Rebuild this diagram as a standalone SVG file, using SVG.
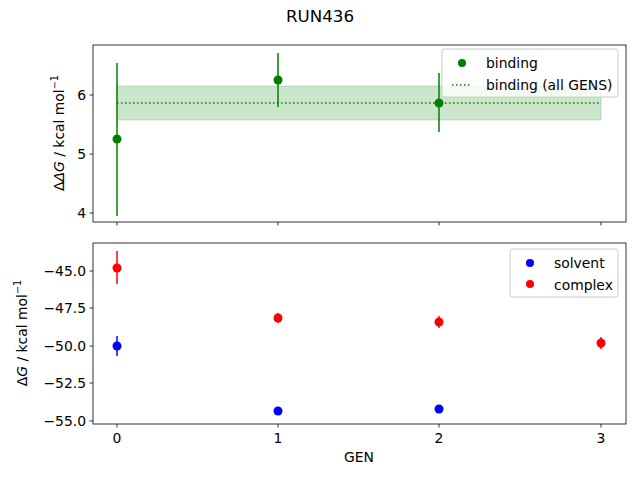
<svg xmlns="http://www.w3.org/2000/svg" width="640" height="480" viewBox="0 0 640 480">
<style>
text{font-family:"DejaVu Sans",sans-serif;font-size:13.9px;fill:#000}
.sup{font-size:9.7px}
.ax{fill:none;stroke:#000;stroke-width:0.8}
.tk{stroke:#000;stroke-width:0.8}
.g{stroke:#008000;stroke-width:1.5}
.b{stroke:#0000ff;stroke-width:1.5}
.r{stroke:#ff0000;stroke-width:1.5}
</style>
<rect width="640" height="480" fill="#fff"/>
<text x="320" y="22" text-anchor="middle" style="font-size:16.7px">RUN436</text>
<g id="top">
<rect x="117" y="86" width="484" height="34" fill="#008000" fill-opacity="0.2" stroke="#008000" stroke-opacity="0.2"/>
<line x1="117" y1="103" x2="601" y2="103" stroke="#008000" stroke-width="1.5" stroke-dasharray="1.5,2.5"/>
<line class="g" x1="117" y1="63" x2="117" y2="216"/>
<line class="g" x1="278" y1="53" x2="278" y2="107"/>
<line class="g" x1="439" y1="73" x2="439" y2="132"/>
<circle cx="117" cy="139" r="4.5" fill="#008000"/>
<circle cx="278" cy="80" r="4.5" fill="#008000"/>
<circle cx="439" cy="103" r="4.5" fill="#008000"/>
<rect class="ax" x="93" y="45" width="533" height="177"/>
<g class="tk">
<line x1="93" y1="95" x2="89.5" y2="95"/><line x1="93" y1="154" x2="89.5" y2="154"/><line x1="93" y1="213" x2="89.5" y2="213"/>
<line x1="117" y1="222" x2="117" y2="225.5"/><line x1="278" y1="222" x2="278" y2="225.5"/><line x1="439" y1="222" x2="439" y2="225.5"/><line x1="601" y1="222" x2="601" y2="225.5"/>
</g>
<text x="86" y="100" text-anchor="end">6</text>
<text x="86" y="159" text-anchor="end">5</text>
<text x="86" y="218" text-anchor="end">4</text>
<text transform="translate(64,133) rotate(-90)" text-anchor="middle">Δ<tspan font-style="italic">ΔG</tspan> / kcal mol<tspan class="sup" dy="-6">−1</tspan></text>
<g id="legend1">
<rect x="442" y="49" width="176" height="48" rx="2" fill="#fff" fill-opacity="0.8" stroke="#ccc"/>
<circle cx="462" cy="63" r="4" fill="#008000"/>
<text x="486" y="68">binding</text>
<line x1="452" y1="85" x2="472" y2="85" stroke="#008000" stroke-width="1.5" stroke-dasharray="1.5,2.5"/>
<text x="486" y="90">binding (all GENS)</text>
</g>
</g>
<g id="bottom">
<line class="b" x1="117" y1="336" x2="117" y2="356"/>
<line class="r" x1="117" y1="251" x2="117" y2="284"/>
<line class="r" x1="278" y1="313" x2="278" y2="323"/>
<line class="r" x1="439" y1="316" x2="439" y2="328"/>
<line class="r" x1="601" y1="337" x2="601" y2="349"/>
<circle cx="117" cy="346" r="4.5" fill="#0000ff"/>
<circle cx="278" cy="411" r="4.5" fill="#0000ff"/>
<circle cx="439" cy="409" r="4.5" fill="#0000ff"/>
<circle cx="117" cy="268" r="4.5" fill="#ff0000"/>
<circle cx="278" cy="318" r="4.5" fill="#ff0000"/>
<circle cx="439" cy="322" r="4.5" fill="#ff0000"/>
<circle cx="601" cy="343" r="4.5" fill="#ff0000"/>
<rect class="ax" x="93" y="243" width="533" height="181"/>
<g class="tk">
<line x1="93" y1="271" x2="89.5" y2="271"/><line x1="93" y1="308" x2="89.5" y2="308"/><line x1="93" y1="346" x2="89.5" y2="346"/><line x1="93" y1="383" x2="89.5" y2="383"/><line x1="93" y1="421" x2="89.5" y2="421"/>
<line x1="117" y1="424" x2="117" y2="427.5"/><line x1="278" y1="424" x2="278" y2="427.5"/><line x1="439" y1="424" x2="439" y2="427.5"/><line x1="601" y1="424" x2="601" y2="427.5"/>
</g>
<text x="86" y="276" text-anchor="end">−45.0</text>
<text x="86" y="313" text-anchor="end">−47.5</text>
<text x="86" y="351" text-anchor="end">−50.0</text>
<text x="86" y="388" text-anchor="end">−52.5</text>
<text x="86" y="426" text-anchor="end">−55.0</text>
<text x="117" y="443" text-anchor="middle">0</text>
<text x="278" y="443" text-anchor="middle">1</text>
<text x="439" y="443" text-anchor="middle">2</text>
<text x="601" y="443" text-anchor="middle">3</text>
<text x="359" y="462" text-anchor="middle">GEN</text>
<text transform="translate(27,333) rotate(-90)" text-anchor="middle">Δ<tspan font-style="italic">G</tspan> / kcal mol<tspan class="sup" dy="-6">−1</tspan></text>
<g id="legend2">
<rect x="510" y="249" width="108" height="48" rx="2" fill="#fff" fill-opacity="0.8" stroke="#ccc"/>
<circle cx="530" cy="263" r="4" fill="#0000ff"/>
<text x="554" y="268">solvent</text>
<circle cx="530" cy="284" r="4" fill="#ff0000"/>
<text x="554" y="290">complex</text>
</g>
</g>
</svg>
